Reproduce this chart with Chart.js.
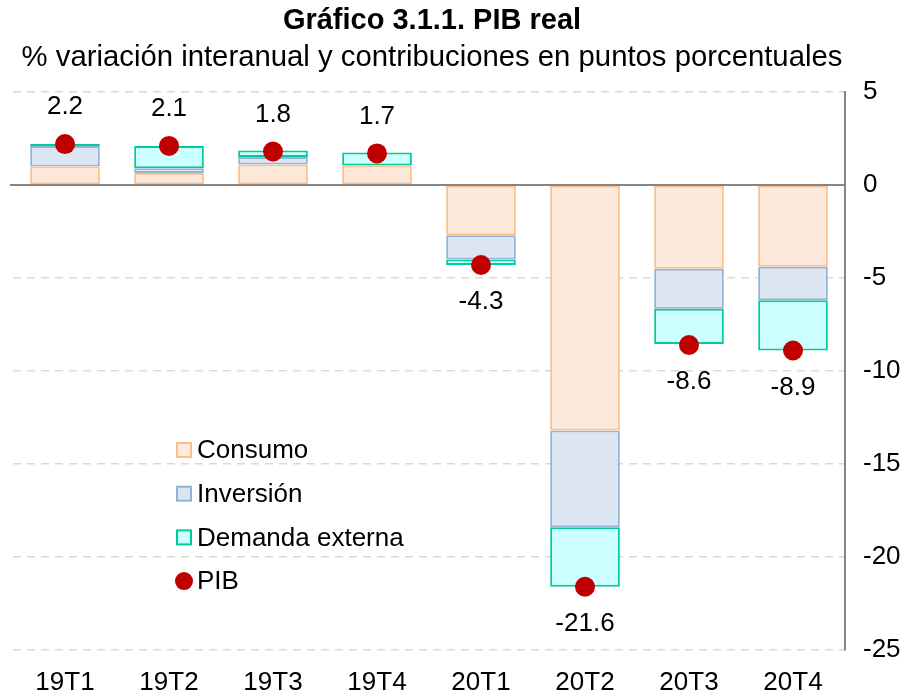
<!DOCTYPE html>
<html>
<head>
<meta charset="utf-8">
<script src="https://cdn.jsdelivr.net/npm/chart.js@4"></script>
<style>
  body { margin: 0; background: #fff; }
</style>
</head>
<body>
<canvas id="myChart" width="909" height="695"></canvas>
<script>
// data
let labels = ['19T1', '19T2', '19T3', '19T4', '20T1', '20T2', '20T3', '20T4'];
let consumo = [1.0, 0.65, 1.1, 1.05, -2.7, -13.2, -4.5, -4.4];
let inversion = [1.1, 0.25, 0.4, -0.05, -1.3, -5.2, -2.15, -1.8];
let demandaExterna = [0.1, 1.2, 0.35, 0.7, -0.3, -3.2, -1.9, -2.7];
let pib = [2.2, 2.1, 1.8, 1.7, -4.3, -21.6, -8.6, -8.9];
let yMin = -25;
let yMax = 5;
let yStep = 5;

let titleText = 'Gráfico 3.1.1. PIB real';
let subtitleText = '% variación interanual y contribuciones en puntos porcentuales';

let font = "'Liberation Sans', Arial, sans-serif";

//legend entries drawn inside the plot
let legendItems = [
  { text: 'Consumo', fill: '#FDE9D9', stroke: '#FAC090', kind: 'box' },
  { text: 'Inversión', fill: '#DCE6F2', stroke: '#95B3D7', kind: 'box' },
  { text: 'Demanda externa', fill: '#CCFFFF', stroke: '#00CC99', kind: 'box' },
  { text: 'PIB', fill: '#C00000', stroke: '#C00000', kind: 'dot' }
];

// titles, zero line, pib labels and legend
const extras = {
  id: 'extras',
  afterDatasetsDraw(chart) {
    const ctx = chart.ctx;
    const area = chart.chartArea;
    const y = chart.scales.y;

    // zero line
    const y0 = y.getPixelForValue(0);
    ctx.save();
    ctx.strokeStyle = '#868686';
    ctx.lineWidth = 2;
    ctx.beginPath();
    ctx.moveTo(area.left - 3, y0);
    ctx.lineTo(area.right, y0);
    ctx.stroke();
    ctx.restore();
  },
  afterDraw(chart) {
    const ctx = chart.ctx;
    const area = chart.chartArea;
    const cx = (area.left + area.right) / 2 + 3;

    ctx.save();
    ctx.fillStyle = '#000';
    ctx.textAlign = 'center';
    ctx.textBaseline = 'middle';
    ctx.font = 'bold 29px ' + font;
    ctx.fillText(titleText, cx, 21);
    ctx.font = '29.3px ' + font;
    ctx.fillText(subtitleText, cx, 58);

    // pib value labels
    const meta = chart.getDatasetMeta(3);
    ctx.font = '26px ' + font;
    meta.data.forEach((pt, i) => {
      const v = pib[i];
      const dy = v >= 0 ? -37 : 37;
      ctx.fillText(v.toFixed(1), pt.x, pt.y + dy);
    });

    // legend
    ctx.textAlign = 'left';
    legendItems.forEach((it, i) => {
      const ly = 450 + i * 43.7;
      if (it.kind === 'box') {
        ctx.fillStyle = it.fill;
        ctx.strokeStyle = it.stroke;
        ctx.lineWidth = 2;
        ctx.fillRect(177, ly - 7, 14, 14);
        ctx.strokeRect(177, ly - 7, 14, 14);
      } else {
        ctx.fillStyle = it.fill;
        ctx.beginPath();
        ctx.arc(184, ly, 9, 0, Math.PI * 2);
        ctx.fill();
      }
      ctx.fillStyle = '#000';
      ctx.fillText(it.text, 197, ly + 1);
    });
    ctx.restore();
  }
};

let ctx = document.getElementById('myChart').getContext('2d');

let myChart = new Chart(ctx, {
  type: 'bar',
  data: {
    labels: labels,
    datasets: [
      {
        label: 'Consumo',
        data: consumo,
        backgroundColor: '#FDE9D9',
        borderColor: '#FAC090',
        borderWidth: 2,
        borderSkipped: false,
        stack: 'c',
        order: 1
      },
      {
        label: 'Inversión',
        data: inversion,
        backgroundColor: '#DCE6F2',
        borderColor: '#95B3D7',
        borderWidth: 2,
        borderSkipped: false,
        stack: 'c',
        order: 1
      },
      {
        label: 'Demanda externa',
        data: demandaExterna,
        backgroundColor: '#CCFFFF',
        borderColor: '#00CC99',
        borderWidth: 2,
        borderSkipped: false,
        stack: 'c',
        order: 1
      },
      {
        type: 'line',
        label: 'PIB',
        data: pib,
        showLine: false,
        pointRadius: 10,
        pointHoverRadius: 10,
        pointBackgroundColor: '#C00000',
        pointBorderColor: '#C00000',
        pointBorderWidth: 0,
        stack: 'pib',
        order: 0
      }
    ]
  },
  options: {
    responsive: false,
    animation: false,
    devicePixelRatio: 1,
    layout: {
      padding: { top: 92, left: 13, right: 0, bottom: 1 }
    },
    datasets: {
      bar: {
        categoryPercentage: 1,
        barPercentage: 0.67
      }
    },
    plugins: {
      legend: { display: false },
      tooltip: { enabled: false },
      title: { display: false }
    },
    scales: {
      x: {
        stacked: true,
        afterFit: (scale) => { scale.height = 44; },
        grid: { display: false, drawTicks: false },
        border: { display: false },
        ticks: {
          color: '#000',
          padding: 20,
          font: { family: font, size: 26, lineHeight: 1 }
        }
      },
      y: {
        stacked: true,
        position: 'right',
        min: yMin,
        max: yMax,
        afterFit: (scale) => { scale.width = 64; },
        grid: {
          drawTicks: false,
          lineWidth: 1.5,
          color: (c) => (c.tick && c.tick.value === 0) ? 'rgba(0,0,0,0)' : '#D9D9D9'
        },
        border: {
          display: true,
          color: '#868686',
          width: 2,
          dash: [8, 6]
        },
        ticks: {
          stepSize: yStep,
          color: '#000',
          padding: 18,
          font: { family: font, size: 26 }
        }
      }
    }
  },
  plugins: [extras]
});
</script>
</body>
</html>
